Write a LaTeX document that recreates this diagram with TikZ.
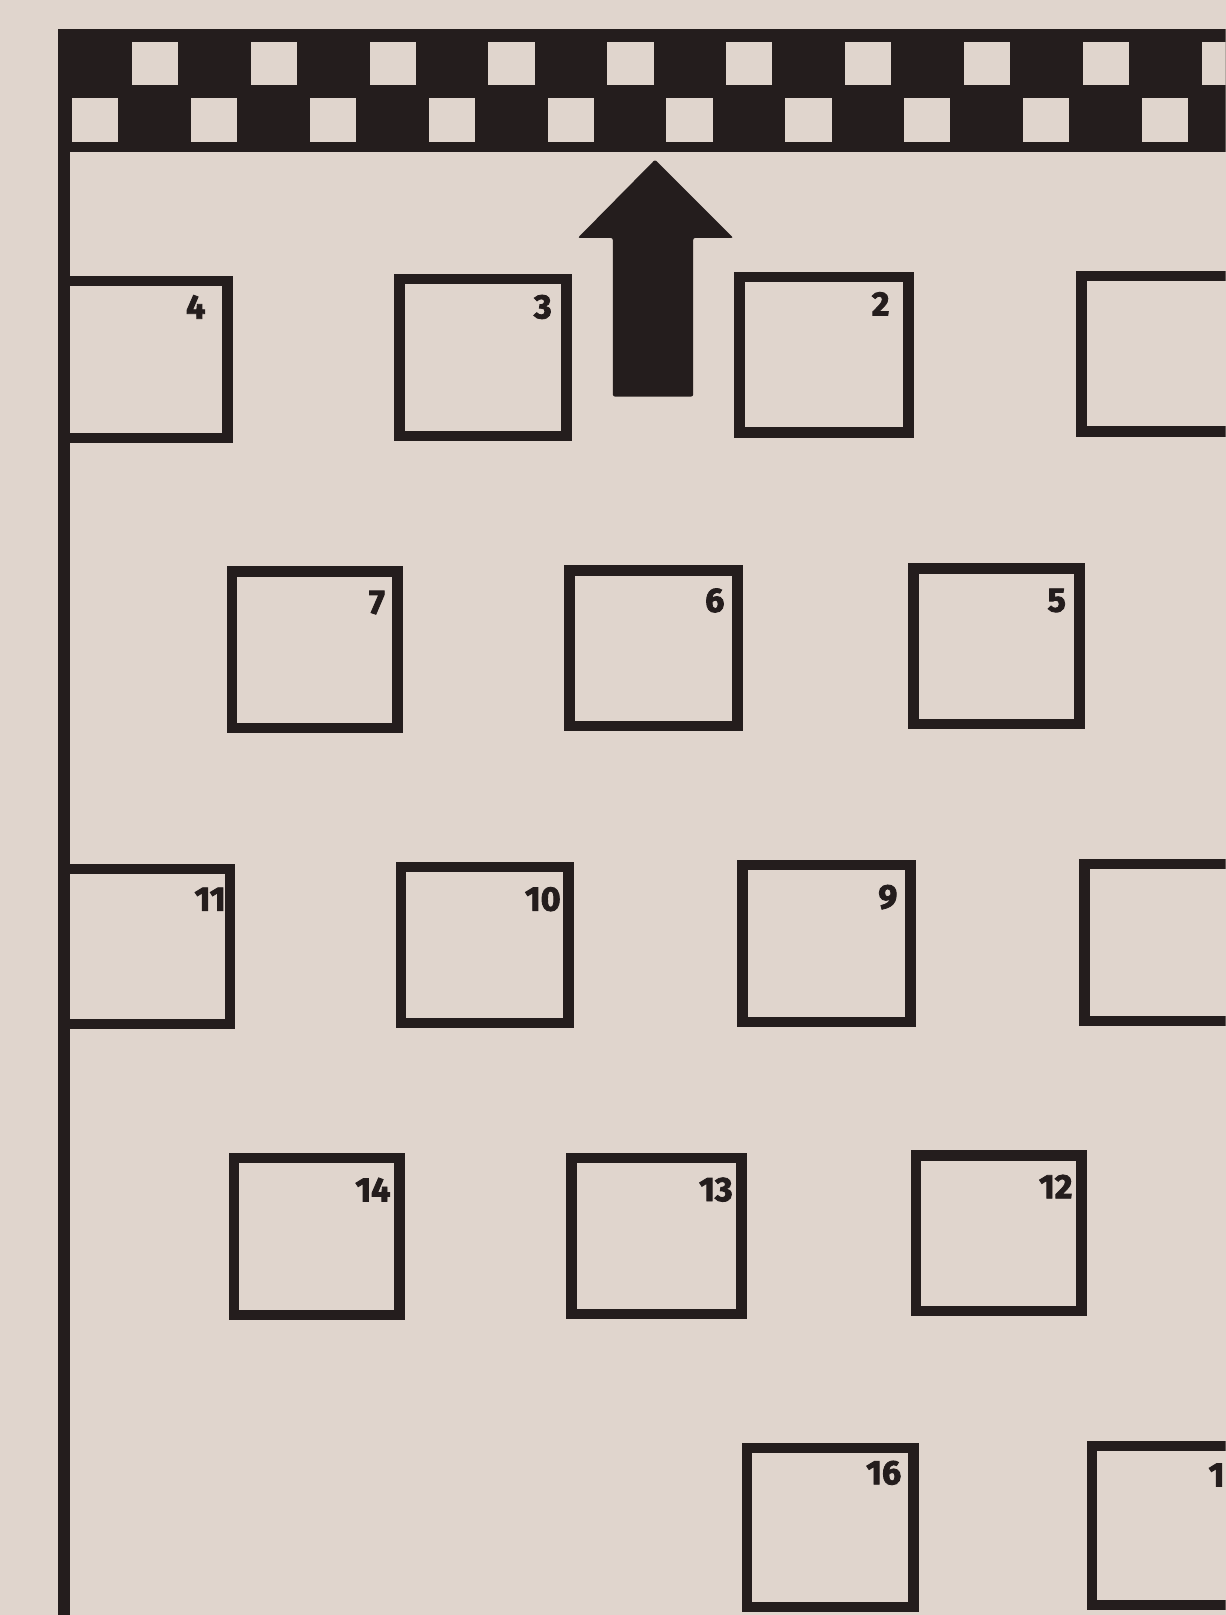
\documentclass[tikz,border=0pt]{standalone}
\usepackage{fontspec}
\newfontfamily\numfont[Numbers=Proportional, BoldFeatures={FakeBold=2.5}]{Fira Sans}
\definecolor{paper}{RGB}{224,213,205}
\definecolor{ink}{RGB}{36,29,29}
\begin{document}
\begin{tikzpicture}[x=1pt,y=-1pt,
  box/.style={draw=ink, line width=10pt, inner sep=0pt},
  num/.style={text=ink, inner sep=0pt, font=\numfont\bfseries\fontsize{33}{33}\selectfont}]
\useasboundingbox (0,0) rectangle (1190,1568);
\fill[paper] (0,0) rectangle (1190,1568);
\begin{scope}
\clip (0,0) rectangle (1190,1568);
% checkered band
\fill[ink] (56,28) rectangle (1190,148);
\foreach \k in {0,...,9}{
  \fill[paper] ({128+115.4*\k},41) rectangle ({173+115.4*\k},83);
  \fill[paper] ({70+115.4*\k},95) rectangle ({115+115.4*\k},138);
}
% left vertical line
\fill[ink] (56,28) rectangle (68,1568);
% arrow
\fill[ink, rounded corners=2pt] (636,155) -- (712,231) -- (673,231) -- (673,385) -- (595,385) -- (595,231) -- (561,231) -- cycle;
% boxes
\node[box, minimum width=160pt, minimum height=152pt] (b4) at (141,349) {};
\node[box, minimum width=162pt, minimum height=152pt] (b3) at (469,347) {};
\node[box, minimum width=164pt, minimum height=151pt] (b2) at (800,344.5) {};
\node[box, minimum width=164pt, minimum height=151pt] (b1) at (1132,343.5) {};
\node[box, minimum width=161pt, minimum height=152pt] (b7) at (305.5,631) {};
\node[box, minimum width=163pt, minimum height=151pt] (b6) at (634.5,629.5) {};
\node[box, minimum width=161pt, minimum height=151pt] (b5) at (967.5,627.5) {};
\node[box, minimum width=162pt, minimum height=150pt] (b11) at (142,919) {};
\node[box, minimum width=163pt, minimum height=151pt] (b10) at (470.5,917.5) {};
\node[box, minimum width=163pt, minimum height=152pt] (b9) at (802.5,916) {};
\node[box, minimum width=164pt, minimum height=152pt] (b8) at (1135,915) {};
\node[box, minimum width=161pt, minimum height=153pt] (b14) at (307.5,1200.5) {};
\node[box, minimum width=165pt, minimum height=152pt] (b13) at (637.5,1200) {};
\node[box, minimum width=161pt, minimum height=151pt] (b12) at (969.5,1197.5) {};
\node[box, minimum width=162pt, minimum height=154pt] (b16) at (806,1483) {};
\node[box, minimum width=164pt, minimum height=154pt] (b15) at (1142,1481) {};
% labels
\node[num] (l4) at (190,298) {4};
\node[num] (l3) at (527,298) {3};
\node[num] (l2) at (855,295) {2};
\node[num] (l7) at (366,585) {7};
\node[num] (l6) at (694,583) {6};
\node[num] (l5) at (1026,583) {5};
\node[num] (l11) at (204,873) {11};
\node[num] (l10) at (527,873) {10};
\node[num] (l9) at (862,871) {9};
\node[num] (l14) at (362,1155) {14};
\node[num] (l13) at (695,1155) {13};
\node[num] (l12) at (1025,1152) {12};
\node[num] (l16) at (858,1430) {16};
\node[num, anchor=east] (l15) at (1189,1432) {1};
\end{scope}
\end{tikzpicture}
\end{document}
